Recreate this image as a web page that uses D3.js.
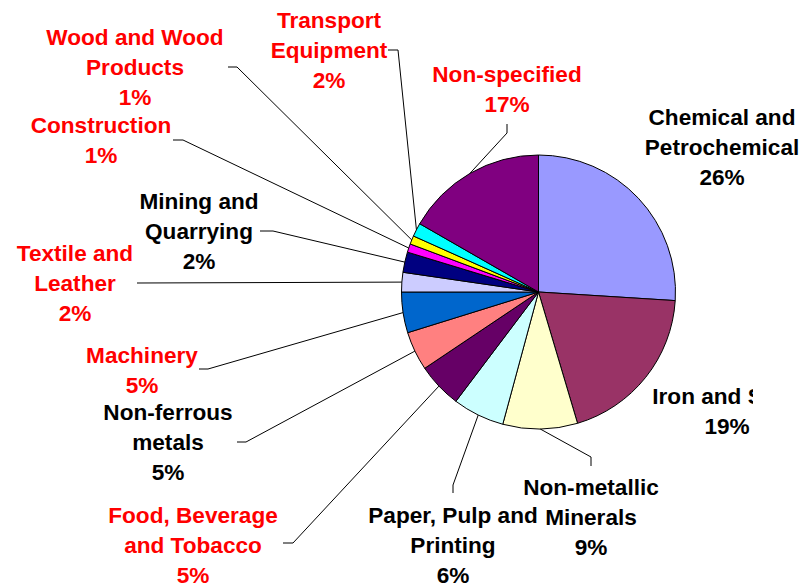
<!DOCTYPE html>
<html>
<head>
<meta charset="utf-8">
<script src="https://cdn.jsdelivr.net/npm/d3@7"></script>
<style>
  body { margin: 0; background: #fff; }
  .label { font-family: "Liberation Sans", Arial, sans-serif; font-weight: bold; font-size: 22.6px; }
</style>
</head>
<body>
<div class="viz"></div>
<script>
// Data
const categories = [
  "Chemical and Petrochemical",
  "Iron and Steel",
  "Non-metallic Minerals",
  "Paper, Pulp and Printing",
  "Food, Beverage and Tobacco",
  "Non-ferrous metals",
  "Machinery",
  "Textile and Leather",
  "Mining and Quarrying",
  "Construction",
  "Wood and Wood Products",
  "Transport Equipment",
  "Non-specified",
];
const shares = [26.0, 19.4, 8.8, 6.1, 5.3, 4.6, 4.8, 2.3, 2.4, 1.0, 1.0, 1.6, 16.7];

const sliceColors = [
  "#9999FF", "#993366", "#FFFFCC", "#CCFFFF", "#660066", "#FF8080", "#0066CC",
  "#CCCCFF", "#000080", "#FF00FF", "#FFFF00", "#00FFFF", "#800080",
];
const labelColors = [
  "#000", "#000", "#000", "#000", "#FF0000", "#000", "#FF0000",
  "#FF0000", "#000", "#FF0000", "#FF0000", "#FF0000", "#FF0000",
];

// Label layout: line breaks, centre x, first baseline, leader elbow points
const labelLayout = [
  { lines: ["Chemical and", "Petrochemical"], x: 722, y: 125, leader: null },
  { lines: ["Iron and Steel"], x: 727, y: 404, leader: null, clipX: 753 },
  { lines: ["Non-metallic", "Minerals"], x: 591, y: 495, leader: [[591, 466], [591, 457]] },
  { lines: ["Paper, Pulp and", "Printing"], x: 453, y: 523, leader: [[453, 493], [453, 485]] },
  { lines: ["Food, Beverage", "and Tobacco"], x: 193, y: 523, leader: [[283, 543], [293, 543]] },
  { lines: ["Non-ferrous", "metals"], x: 168, y: 420, leader: [[237, 442], [246, 442]] },
  { lines: ["Machinery"], x: 142, y: 363, leader: [[199, 369], [208, 369]] },
  { lines: ["Textile and", "Leather"], x: 75, y: 261, leader: [[137, 283]] },
  { lines: ["Mining and", "Quarrying"], x: 199, y: 209, leader: [[260, 231], [273, 231]] },
  { lines: ["Construction"], x: 101, y: 133, leader: [[173, 140], [183, 140]] },
  { lines: ["Wood and Wood", "Products"], x: 135, y: 45, leader: [[228, 67], [237, 67]] },
  { lines: ["Transport", "Equipment"], x: 329, y: 28, leader: [[388, 50], [398, 50]] },
  { lines: ["Non-specified"], x: 507, y: 82, leader: [[507, 124], [507, 133]] },
];

const totalWidth = 802;
const totalHeight = 587;
const cx = 538.5;
const cy = 292;
const radius = 137;
const lineHeight = 30;

const data = categories.map((name, i) => ({ name, value: shares[i], i }));

const svg = d3
  .select(".viz")
  .append("svg")
  .attr("width", totalWidth)
  .attr("height", totalHeight);

const pie = d3.pie().sort(null).value((d) => d.value);
const arcs = pie(data);
const arc = d3.arc().innerRadius(0).outerRadius(radius);

const g = svg.append("g").attr("transform", `translate(${cx},${cy})`);

// Slices
g.selectAll(".slice")
  .data(arcs)
  .enter()
  .append("path")
  .attr("class", "slice")
  .attr("d", arc)
  .attr("fill", (d) => sliceColors[d.data.i])
  .attr("stroke", "#000")
  .attr("stroke-width", 1);

// Leader lines from label to slice edge
const edgePoint = (d) => {
  const a = (d.startAngle + d.endAngle) / 2;
  return [cx + radius * Math.sin(a), cy - radius * Math.cos(a)];
};

const line = d3.line();
svg
  .selectAll(".leader")
  .data(arcs.filter((d) => labelLayout[d.data.i].leader))
  .enter()
  .append("path")
  .attr("class", "leader")
  .attr("d", (d) => line([...labelLayout[d.data.i].leader, edgePoint(d)]))
  .attr("fill", "none")
  .attr("stroke", "#000")
  .attr("stroke-width", 1);

// Clip for labels cut at the plot edge
const defs = svg.append("defs");
labelLayout.forEach((l, i) => {
  if (l.clipX) {
    defs
      .append("clipPath")
      .attr("id", `clip-${i}`)
      .append("rect")
      .attr("x", 0)
      .attr("y", 0)
      .attr("width", l.clipX)
      .attr("height", totalHeight);
  }
});

// Labels
svg
  .selectAll(".label")
  .data(arcs)
  .enter()
  .append("text")
  .attr("class", "label")
  .attr("text-anchor", "middle")
  .attr("fill", (d) => labelColors[d.data.i])
  .attr("clip-path", (d) => (labelLayout[d.data.i].clipX ? `url(#clip-${d.data.i})` : null))
  .each(function (d) {
    const l = labelLayout[d.data.i];
    const text = d3.select(this);
    const rows = [...l.lines, Math.round(d.data.value) + "%"];
    rows.forEach((row, k) => {
      text
        .append("tspan")
        .attr("x", l.x)
        .attr("y", l.y + k * lineHeight)
        .text(row);
    });
  });
</script>
</body>
</html>
